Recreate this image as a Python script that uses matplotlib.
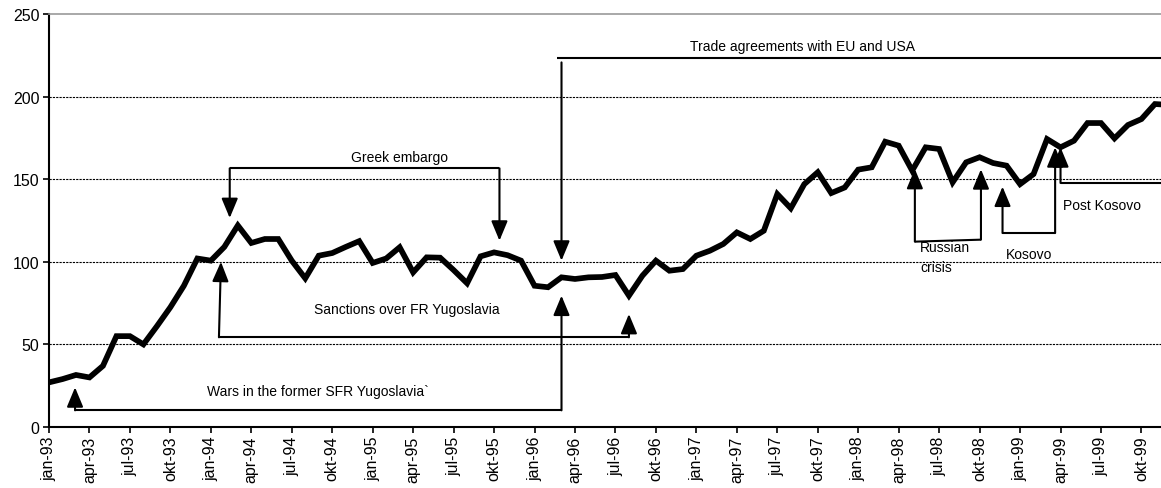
import numpy as np
import matplotlib
matplotlib.use("Agg")
from matplotlib import pyplot as plt

plt.rcParams["font.family"] = ["Liberation Sans", "DejaVu Sans"]

# monthly index, jan-93 .. dec-99 (last months run past the frame)
values = [27, 29, 31.5, 30, 37, 55, 55, 50, 61, 72.5, 85.5, 102,
          100.7, 109, 122, 111.4, 113.8, 113.8, 100.7, 90, 103.7, 105.3, 109, 112.5,
          99.3, 102, 108.8, 93.6, 102.7, 102.5, 95, 87, 103.3, 105.7, 104, 100.7,
          85.5, 84.6, 90.6, 89.6, 90.6, 90.8, 92, 79.5, 91.6, 100.7, 94.6, 95.6,
          103.7, 106.7, 110.8, 117.8, 113.8, 118.8, 141, 132.4, 147, 154.2, 141.6, 145,
          155.8, 157.2, 172.7, 170.3, 155.2, 169.3, 168.3, 148.1, 160.2, 163.3, 159.8, 158.2,
          147, 153.1, 174.3, 169.3, 173.3, 184, 184, 174.7, 182.8, 186.4, 195.5, 195]
month_names = ["jan", "apr", "jul", "okt"]
years = ["93", "94", "95", "96", "97", "98", "99"]
tick_labels = [f"{m}-{y}" for y in years for m in month_names]

fig = plt.figure(figsize=(11.61, 4.89), dpi=100)
ax = fig.add_axes([49 / 1161, 61 / 489, 1112 / 1161, 413 / 489])

x = np.arange(len(values))
ax.plot(x, values, color="black", lw=4.1, solid_joinstyle="miter", zorder=5)

ax.set_xlim(0, 82.45)
ax.set_ylim(0, 250)
ax.set_yticks([0, 50, 100, 150, 200, 250])
ax.set_xticks(np.arange(0, 3 * len(tick_labels), 3))
ax.set_xticklabels(tick_labels, rotation=90)
ax.tick_params(axis="both", direction="out", length=4, width=1.2, labelsize=11.5, colors="black")
ax.tick_params(axis="y", pad=3)
ax.tick_params(axis="x", pad=2)

for gy in [50, 100, 150, 200]:
    ax.axhline(gy, color="black", lw=0.8, ls=(0, (2, 1)), zorder=1)

ax.spines["right"].set_visible(False)
ax.spines["top"].set_color("#999999")
ax.spines["top"].set_linewidth(1.2)
ax.spines["left"].set_linewidth(1.5)
ax.spines["bottom"].set_linewidth(1.5)

lk = dict(color="black", lw=1.5, zorder=6, solid_capstyle="butt")
fs = 10


def arrow(x0, y0, x1, y1):
    ax.annotate("", xy=(x1, y1), xytext=(x0, y0),
                arrowprops=dict(arrowstyle="-|>,head_width=0.5,head_length=1.2",
                                color="black", lw=1.5, shrinkA=0, shrinkB=0),
                zorder=7)


# Wars in the former SFR Yugoslavia
ax.plot([1.93, 38], [10.1, 10.1], **lk)
arrow(1.93, 10.1, 1.93, 24)
arrow(38, 10.1, 38, 79.5)
ax.text(19.9, 22, "Wars in the former SFR Yugoslavia`", ha="center", va="center", fontsize=fs)

# Sanctions over FR Yugoslavia
ax.plot([12.6, 43], [54.3, 54.3], **lk)
arrow(12.6, 54.3, 12.75, 100)
arrow(43, 54.3, 43, 68.4)
ax.text(26.5, 71.4, "Sanctions over FR Yugoslavia", ha="center", va="center", fontsize=fs)

# Greek embargo
ax.plot([13.4, 33.4], [156.6, 156.6], **lk)
arrow(13.4, 156.6, 13.4, 126.5)
arrow(33.4, 156.6, 33.4, 112.8)
ax.text(26, 163.6, "Greek embargo", ha="center", va="center", fontsize=fs)

# Trade agreements with EU and USA
ax.plot([37.7, 83], [223.4, 223.4], **lk)
arrow(38, 220.7, 38, 100.7)
ax.text(55.9, 230.8, "Trade agreements with EU and USA", ha="center", va="center", fontsize=fs)

# Russian crisis
ax.plot([64.2, 69.1], [112.2, 113.4], **lk)
arrow(64.2, 112.2, 64.2, 156.2)
arrow(69.1, 113.4, 69.1, 156)
ax.text(64.6, 103, "Russian\ncrisis", ha="left", va="center", fontsize=fs, linespacing=1.5)

# Kosovo
ax.plot([70.7, 74.6], [117.4, 117.4], **lk)
arrow(70.7, 117.4, 70.7, 145.5)
arrow(74.6, 117.4, 74.6, 169.3)
ax.text(72.7, 104.7, "Kosovo", ha="center", va="center", fontsize=fs)

# Post Kosovo
ax.plot([75, 83], [147.7, 147.7], **lk)
arrow(75, 147.7, 75, 169.3)
ax.text(75.2, 134.6, "Post Kosovo", ha="left", va="center", fontsize=fs)

fig.savefig("out.png", dpi=100)
